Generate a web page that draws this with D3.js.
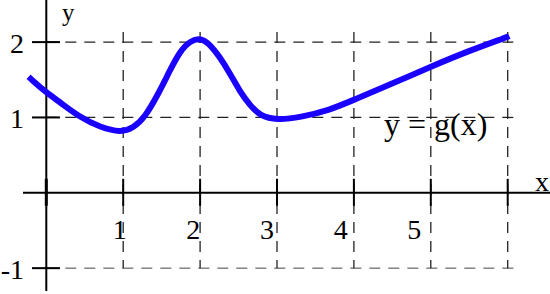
<!doctype html>
<html>

<head>
    <script src="https://cdnjs.cloudflare.com/ajax/libs/d3/7.8.5/d3.min.js"></script>
    <style>
        body {
            margin: 0;
            background: #fff;
        }

        text {
            font-family: "Liberation Serif", "Times New Roman", serif;
            fill: #000;
        }
    </style>
</head>

<body>
    <div id="viz"></div>
    <script>
        // curve samples
        var curveX = [-0.23, -0.2, 0, 0.18, 0.44, 0.70, 0.97, 1.13, 1.28, 1.45, 1.61, 1.74, 1.87, 2.05, 2.26, 2.39, 2.52, 2.65, 2.78, 3.0, 3.3, 3.69, 3.99, 4.5, 4.99, 5.51, 6.0, 6.02];
        var curveY = [1.54, 1.51, 1.33, 1.20, 1.0, 0.87, 0.80, 0.86, 1.0, 1.30, 1.63, 1.88, 2.02, 2.07, 1.80, 1.58, 1.34, 1.16, 1.02, 0.965, 1.0, 1.10, 1.23, 1.45, 1.67, 1.89, 2.07, 2.08];

        var xTicks = [0, 1, 2, 3, 4, 5, 6];
        var xLabels = [1, 2, 3, 4, 5];
        var yTicks = [-1, 1, 2];
        var yGrid = [-1, 1, 2];

        var width = 550,
            height = 294;

        var x = d3.scaleLinear().domain([0, 6]).range([46.3, 507.7]);
        var y = d3.scaleLinear().domain([0, 2]).range([192.8, 42.1]);
        // labels sit a little left of their gridlines in the original
        var xLab = d3.scaleLinear().domain([0, 6]).range([46, 488]);

        var svg = d3.select("#viz")
            .append("svg")
            .attr("width", width)
            .attr("height", height);

        // dashed grid
        svg.append("g").selectAll("line")
            .data(yGrid)
            .enter()
            .append("line")
            .attr("x1", x(0))
            .attr("x2", 521)
            .attr("y1", d => y(d))
            .attr("y2", d => y(d))
            .attr("stroke", d => d < 0 ? "#444" : "#222")
            .attr("stroke-width", d => d < 0 ? 1 : 1.3)
            .attr("stroke-dasharray", "11,8");

        svg.append("g").selectAll("line")
            .data(xTicks.slice(1))
            .enter()
            .append("line")
            .attr("x1", d => x(d))
            .attr("x2", d => x(d))
            .attr("y1", 32)
            .attr("y2", y(-1))
            .attr("stroke", "#222")
            .attr("stroke-width", 1.3)
            .attr("stroke-dasharray", "11,8");

        // axes
        svg.append("line")
            .attr("x1", 23).attr("x2", width)
            .attr("y1", y(0)).attr("y2", y(0))
            .attr("stroke", "#000").attr("stroke-width", 2);
        svg.append("line")
            .attr("x1", x(0)).attr("x2", x(0))
            .attr("y1", 0).attr("y2", 291)
            .attr("stroke", "#000").attr("stroke-width", 2);

        svg.append("g").selectAll("line")
            .data(xTicks)
            .enter()
            .append("line")
            .attr("x1", d => x(d))
            .attr("x2", d => x(d))
            .attr("y1", y(0) - 14)
            .attr("y2", y(0) + 13)
            .attr("stroke", "#000")
            .attr("stroke-width", d => d == 0 ? 3 : 2);

        svg.append("g").selectAll("line")
            .data(yTicks)
            .enter()
            .append("line")
            .attr("x1", 32)
            .attr("x2", 60)
            .attr("y1", d => y(d))
            .attr("y2", d => y(d))
            .attr("stroke", "#000")
            .attr("stroke-width", 2);

        // tick labels
        svg.append("g").selectAll("text")
            .data(xLabels)
            .enter()
            .append("text")
            .attr("x", d => xLab(d))
            .attr("y", 239)
            .attr("text-anchor", "middle")
            .style("font-size", "28px")
            .text(d => d);

        svg.append("g").selectAll("text")
            .data(yTicks)
            .enter()
            .append("text")
            .attr("x", 24)
            .attr("y", d => y(d) + 11)
            .attr("text-anchor", "end")
            .style("font-size", "28px")
            .text(d => d == -1 ? "-1" : d);

        svg.append("text").attr("x", 62).attr("y", 21).style("font-size", "25px").text("y");
        svg.append("text").attr("x", 535).attr("y", 191).style("font-size", "28px").text("x");
        svg.append("text").attr("x", 384).attr("y", 135).style("font-size", "32px").text("y = g(x)");

        // the curve
        var pts = curveX.map((d, i) => [d, curveY[i]]);
        var line = d3.line()
            .x(d => x(d[0]))
            .y(d => y(d[1]))
            .curve(d3.curveBasis);

        svg.append("path")
            .datum(pts)
            .attr("d", line)
            .attr("fill", "none")
            .attr("stroke", "#1a00ff")
            .attr("stroke-width", 6)
            .attr("stroke-linecap", "butt");
    </script>
</body>

</html>
